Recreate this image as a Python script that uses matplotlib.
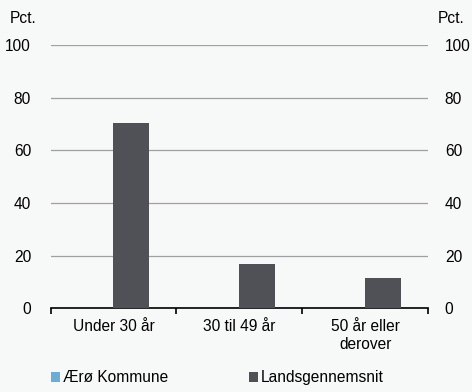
import matplotlib.pyplot as plt
import numpy as np

plt.rcParams['font.family'] = ['Liberation Sans', 'DejaVu Sans']

kategorier = ['Under 30 år', '30 til 49 år', '50 år eller\nderover']
aeroe = [0, 0, 0]
landsgennemsnit = [70.3, 16.8, 11.4]
serier = ['Ærø Kommune', 'Landsgennemsnit']
farver = ['#6aaed6', '#505157']

fs = 11.2
bg = '#f7f8f8'
fig = plt.figure(figsize=(4.72, 3.92), dpi=100, facecolor=bg)
ax = fig.add_axes([0.107, 0.214, 0.8, 0.671], facecolor=bg)

x = np.arange(len(kategorier))
w = 0.286
ax.bar(x - w / 2, aeroe, w, color=farver[0], label=serier[0], zorder=3)
ax.bar(x + w / 2, landsgennemsnit, w, color=farver[1], label=serier[1], zorder=3)

ax.set_xlim(-0.5, 2.5)
ax.set_ylim(0, 100)
ax.set_yticks(range(0, 101, 20))
ax.yaxis.grid(True, color='#a0a0a0', linewidth=0.9, zorder=0)
for s in ['top', 'left', 'right']:
    ax.spines[s].set_visible(False)
ax.spines['bottom'].set_color('black')
ax.spines['bottom'].set_linewidth(1.2)

ax.set_xticks(x)
ax.set_xticklabels(kategorier, fontsize=fs)
ax.tick_params(axis='x', length=0, pad=8)
ax.set_xticks([-0.5, 0.5, 1.5, 2.5], minor=True)
ax.tick_params(axis='x', which='minor', length=4, width=1.2, color='black', direction='out')
ax.tick_params(axis='y', length=0, labelsize=fs, pad=14)

ax2 = ax.twinx()
ax2.set_ylim(0, 100)
ax2.set_yticks(range(0, 101, 20))
ax2.tick_params(axis='y', length=0, labelsize=fs, pad=12)
for s in ['top', 'left', 'right', 'bottom']:
    ax2.spines[s].set_visible(False)

fig.text(0.02, 0.952, 'Pct.', fontsize=fs, va='center', ha='left')
fig.text(0.985, 0.952, 'Pct.', fontsize=fs, va='center', ha='right')

handles, labels = ax.get_legend_handles_labels()
fig.legend(handles, labels, loc='lower center', bbox_to_anchor=(0.46, -0.018), ncol=2,
           frameon=False, fontsize=fs, handlelength=0.6, handleheight=0.6,
           handletextpad=0.15, columnspacing=5.2)

fig.savefig('out.png', dpi=100, facecolor=bg)
